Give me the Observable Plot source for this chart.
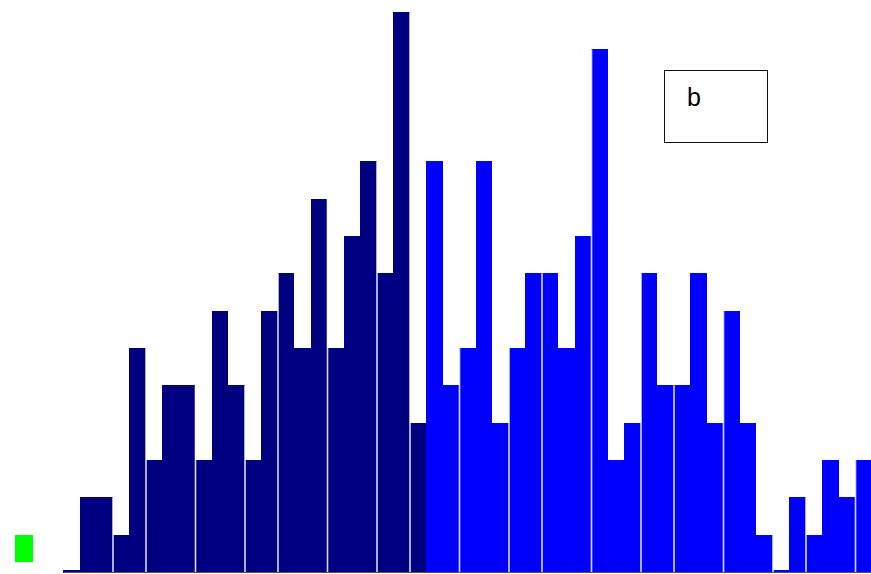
<!DOCTYPE html>
<html>
<head>
<meta charset="utf-8">
<script src="https://cdn.jsdelivr.net/npm/d3@7"></script>
<script src="https://cdn.jsdelivr.net/npm/@observablehq/plot@0.6"></script>
<style>
  html, body { margin: 0; padding: 0; background: #fff; }
  #wrap { position: relative; width: 871px; height: 574px; overflow: hidden; }
  #wrap svg { position: absolute; left: 0; top: 0; }
  .legend-box { position: absolute; left: 664px; top: 70px; width: 102px; height: 71px;
    border: 1.6px solid #111; background: #fff; box-sizing: content-box; }
  .legend-box span { position: absolute; left: 22px; top: 12px; font: 25px "Liberation Sans", Arial, sans-serif; color: #000; }
  .swatch { position: absolute; left: 15px; top: 535px; width: 18px; height: 27px; background: #00ff00; }
</style>
</head>
<body>
<div id="wrap"></div>
<script>
// Counts per bin (bins of equal width, left to right)
const navyCounts = [0.05, 2, 2, 1, 6, 3, 5, 5, 3, 7, 5, 3, 7, 8, 6, 10, 6, 9, 11, 8, 15, 4];
const blueCounts = [11, 5, 6, 11, 4, 6, 8, 8, 6, 9, 14, 3, 4, 8, 5, 5, 8, 4, 7, 4, 1, 0.05, 2, 1, 3, 2, 3];
// Bin edges where a thin white separator shows between bars
const gapEdges = [3, 5, 8, 11, 13, 16, 19, 21, 24, 27, 29, 32, 35, 37, 40, 43, 45, 48];
const legendLabel = "b";

const colors = {navy: "#000080", blue: "#0000ff"};
const bins = [
  ...navyCounts.map((v, i) => ({bin: i, count: v, group: "navy"})),
  ...blueCounts.map((v, i) => ({bin: navyCounts.length + i, count: v, group: "blue"}))
];
const allCounts = bins.map(d => d.count);
const nBins = bins.length;

const chart = Plot.plot({
  width: 871,
  height: 574,
  marginLeft: 63,
  marginRight: 0,
  marginTop: 12,
  marginBottom: 2,
  x: {type: "linear", domain: [0, nBins], range: [63, 871.5], axis: null},
  y: {domain: [0, 15], axis: null},
  marks: [
    Plot.rect(bins, {
      x1: "bin",
      x2: d => d.bin + 1,
      y1: 0,
      y2: "count",
      fill: d => colors[d.group],
      inset: 0,
      shapeRendering: "crispEdges"
    }),
    Plot.ruleX(gapEdges, {
      x: d => d,
      y1: 0,
      y2: d => Math.max(allCounts[d - 1] ?? 0, allCounts[d] ?? 0),
      stroke: "white",
      strokeWidth: 1.6,
      strokeOpacity: 0.85
    }),
    Plot.ruleY([0], {stroke: "#555", strokeWidth: 1})
  ]
});

const wrap = document.getElementById("wrap");
wrap.appendChild(chart);

const sw = document.createElement("div");
sw.className = "swatch";
wrap.appendChild(sw);

const box = document.createElement("div");
box.className = "legend-box";
const lbl = document.createElement("span");
lbl.textContent = legendLabel;
box.appendChild(lbl);
wrap.appendChild(box);
</script>
</body>
</html>
